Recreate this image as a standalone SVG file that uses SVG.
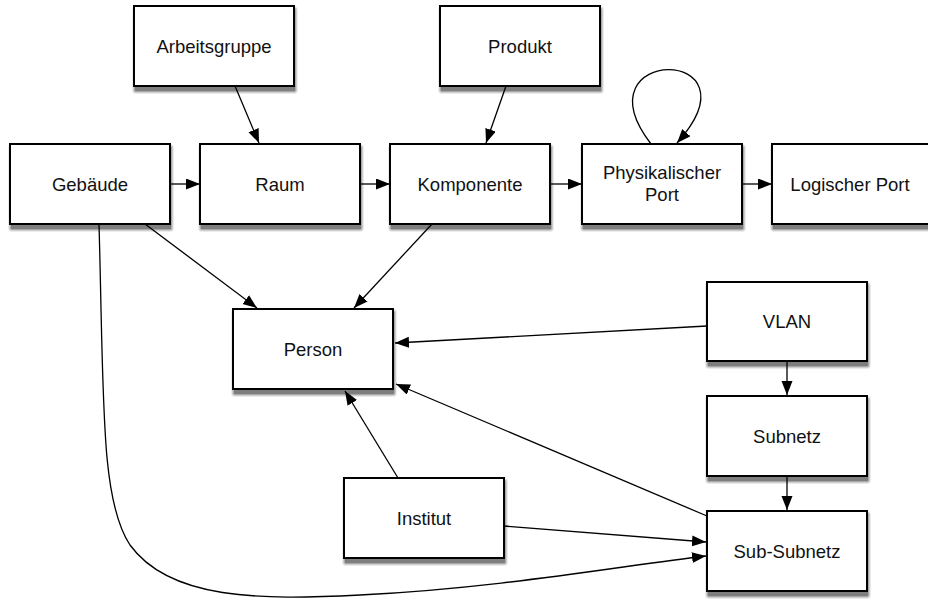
<svg xmlns="http://www.w3.org/2000/svg" width="928" height="601" viewBox="0 0 928 601">
<style>
.box{fill:#fff;stroke:#000;stroke-width:2}
.s1{fill:#000;fill-opacity:0.08}
.s2{fill:#000;fill-opacity:0.12}
.s3{fill:#000;fill-opacity:0.18}
.s4{fill:#000;fill-opacity:0.25}
.lbl{font-family:"Liberation Sans",Arial,sans-serif;font-size:18.5px;fill:#111;text-anchor:middle}
.edge{fill:none;stroke:#000;stroke-width:1.3;marker-end:url(#arr)}
</style>
<defs>
<marker id="arr" markerUnits="userSpaceOnUse" markerWidth="15" markerHeight="12" refX="14" refY="5.5" orient="auto">
<path d="M0,0 L14,5.5 L0,11 Z" fill="#000"/>
</marker>
</defs>
<g id="connectors">
<path class="edge" d="M170,184 L200,184"/>
<path class="edge" d="M360,184 L390,184"/>
<path class="edge" d="M550,184 L582,184"/>
<path class="edge" d="M742,184 L772,184"/>
<path class="edge" d="M235,86 L259,143"/>
<path class="edge" d="M506,86 L486,143"/>
<path class="edge" d="M651,144 C575,45 765,45 677,143"/>
<path class="edge" d="M145,224 L257,308"/>
<path class="edge" d="M432,224 L354,308"/>
<path class="edge" d="M707,326 L395,343"/>
<path class="edge" d="M707,516 L396,384"/>
<path class="edge" d="M398,478 L345,391"/>
<path class="edge" d="M787,361 L787,395"/>
<path class="edge" d="M787,476 L787,510"/>
<path class="edge" d="M504,526 L706,542"/>
<path class="edge" d="M99,224 C104,400 100,500 130,545 C170,600 260,600 360,595 C500,588 620,566 706,556"/>
</g>
<g id="n-arbeitsgruppe"><g transform="translate(134,6)"><rect class="s1" x="-2" y="0" width="166" height="88" rx="4"/><rect class="s2" x="-1" y="1" width="164" height="86" rx="3"/><rect class="s3" x="0" y="2" width="162" height="84" rx="2"/><rect class="s4" x="1" y="3" width="160" height="82"/></g><rect class="box" x="134" y="6" width="160" height="80"/><text class="lbl" x="214" y="52.5">Arbeitsgruppe</text></g>
<g id="n-produkt"><g transform="translate(440,6)"><rect class="s1" x="-2" y="0" width="166" height="88" rx="4"/><rect class="s2" x="-1" y="1" width="164" height="86" rx="3"/><rect class="s3" x="0" y="2" width="162" height="84" rx="2"/><rect class="s4" x="1" y="3" width="160" height="82"/></g><rect class="box" x="440" y="6" width="160" height="80"/><text class="lbl" x="520" y="52.5">Produkt</text></g>
<g id="n-gebaeude"><g transform="translate(10,144)"><rect class="s1" x="-2" y="0" width="166" height="88" rx="4"/><rect class="s2" x="-1" y="1" width="164" height="86" rx="3"/><rect class="s3" x="0" y="2" width="162" height="84" rx="2"/><rect class="s4" x="1" y="3" width="160" height="82"/></g><rect class="box" x="10" y="144" width="160" height="80"/><text class="lbl" x="90" y="190.5">Gebäude</text></g>
<g id="n-raum"><g transform="translate(200,144)"><rect class="s1" x="-2" y="0" width="166" height="88" rx="4"/><rect class="s2" x="-1" y="1" width="164" height="86" rx="3"/><rect class="s3" x="0" y="2" width="162" height="84" rx="2"/><rect class="s4" x="1" y="3" width="160" height="82"/></g><rect class="box" x="200" y="144" width="160" height="80"/><text class="lbl" x="280" y="190.5">Raum</text></g>
<g id="n-komponente"><g transform="translate(390,144)"><rect class="s1" x="-2" y="0" width="166" height="88" rx="4"/><rect class="s2" x="-1" y="1" width="164" height="86" rx="3"/><rect class="s3" x="0" y="2" width="162" height="84" rx="2"/><rect class="s4" x="1" y="3" width="160" height="82"/></g><rect class="box" x="390" y="144" width="160" height="80"/><text class="lbl" x="470" y="190.5">Komponente</text></g>
<g id="n-physport"><g transform="translate(582,144)"><rect class="s1" x="-2" y="0" width="166" height="88" rx="4"/><rect class="s2" x="-1" y="1" width="164" height="86" rx="3"/><rect class="s3" x="0" y="2" width="162" height="84" rx="2"/><rect class="s4" x="1" y="3" width="160" height="82"/></g><rect class="box" x="582" y="144" width="160" height="80"/><text class="lbl" x="662" y="179">Physikalischer</text><text class="lbl" x="662" y="200.5">Port</text></g>
<g id="n-logport"><g transform="translate(772,144)"><rect class="s1" x="-2" y="0" width="166" height="88" rx="4"/><rect class="s2" x="-1" y="1" width="164" height="86" rx="3"/><rect class="s3" x="0" y="2" width="162" height="84" rx="2"/><rect class="s4" x="1" y="3" width="160" height="82"/></g><rect class="box" x="772" y="144" width="160" height="80"/><text class="lbl" x="850" y="190.5">Logischer Port</text></g>
<g id="n-person"><g transform="translate(233,309)"><rect class="s1" x="-2" y="0" width="166" height="88" rx="4"/><rect class="s2" x="-1" y="1" width="164" height="86" rx="3"/><rect class="s3" x="0" y="2" width="162" height="84" rx="2"/><rect class="s4" x="1" y="3" width="160" height="82"/></g><rect class="box" x="233" y="309" width="160" height="80"/><text class="lbl" x="313" y="355.5">Person</text></g>
<g id="n-vlan"><g transform="translate(707,282)"><rect class="s1" x="-2" y="0" width="166" height="87" rx="4"/><rect class="s2" x="-1" y="1" width="164" height="85" rx="3"/><rect class="s3" x="0" y="2" width="162" height="83" rx="2"/><rect class="s4" x="1" y="3" width="160" height="81"/></g><rect class="box" x="707" y="282" width="160" height="79"/><text class="lbl" x="787" y="328">VLAN</text></g>
<g id="n-subnetz"><g transform="translate(707,396)"><rect class="s1" x="-2" y="0" width="166" height="88" rx="4"/><rect class="s2" x="-1" y="1" width="164" height="86" rx="3"/><rect class="s3" x="0" y="2" width="162" height="84" rx="2"/><rect class="s4" x="1" y="3" width="160" height="82"/></g><rect class="box" x="707" y="396" width="160" height="80"/><text class="lbl" x="787" y="442.5">Subnetz</text></g>
<g id="n-institut"><g transform="translate(344,478)"><rect class="s1" x="-2" y="0" width="166" height="88" rx="4"/><rect class="s2" x="-1" y="1" width="164" height="86" rx="3"/><rect class="s3" x="0" y="2" width="162" height="84" rx="2"/><rect class="s4" x="1" y="3" width="160" height="82"/></g><rect class="box" x="344" y="478" width="160" height="80"/><text class="lbl" x="424" y="524.5">Institut</text></g>
<g id="n-subsubnetz"><g transform="translate(707,511)"><rect class="s1" x="-2" y="0" width="166" height="88" rx="4"/><rect class="s2" x="-1" y="1" width="164" height="86" rx="3"/><rect class="s3" x="0" y="2" width="162" height="84" rx="2"/><rect class="s4" x="1" y="3" width="160" height="82"/></g><rect class="box" x="707" y="511" width="160" height="80"/><text class="lbl" x="787" y="557.5">Sub-Subnetz</text></g>
</svg>
